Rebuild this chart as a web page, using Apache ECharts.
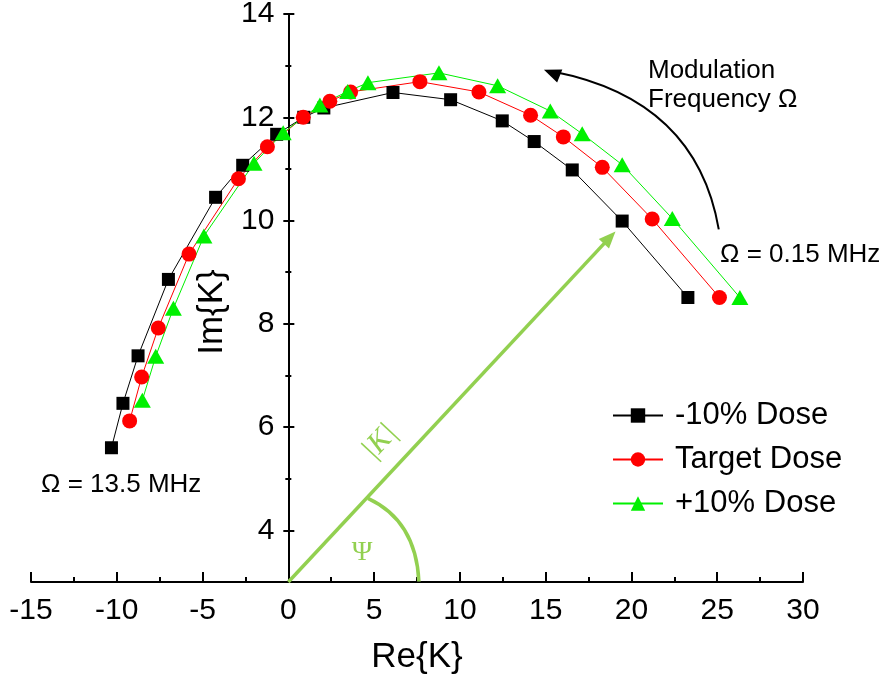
<!DOCTYPE html>
<html lang="en">
<head>
<meta charset="UTF-8">
<title>Im{K} vs Re{K}</title>
<style>html,body{margin:0;padding:0;background:#fff;}</style>
</head>
<body>
<div id="main" style="width:889px;height:685px;"></div>
<script src="https://cdn.jsdelivr.net/npm/echarts@6/dist/echarts.min.js"></script>
<script>
// -10% dose (black squares)
var lowRe = [-10.31, -9.64, -8.76, -6.99, -4.24, -2.66, -0.68, 0.90, 2.07, 6.10, 9.46, 12.47, 14.33, 16.55, 19.46, 23.29];
var lowIm = [5.60, 6.46, 7.38, 8.86, 10.45, 11.07, 11.67, 12.00, 12.18, 12.48, 12.34, 11.93, 11.53, 10.98, 9.99, 8.51];
// target dose (red circles)
var targetRe = [-9.25, -8.55, -7.58, -5.79, -2.91, -1.22, 0.87, 2.42, 3.63, 7.67, 11.11, 14.12, 16.03, 18.30, 21.21, 25.13];
var targetIm = [6.12, 6.97, 7.92, 9.35, 10.81, 11.43, 12.00, 12.31, 12.49, 12.69, 12.49, 12.04, 11.62, 11.03, 10.03, 8.51];
// +10% dose (green triangles)
var highRe = [-8.51, -7.73, -6.70, -4.92, -2.00, -0.30, 1.84, 3.46, 4.64, 8.78, 12.20, 15.27, 17.13, 19.46, 22.38, 26.32];
var highIm = [6.52, 7.37, 8.30, 9.70, 11.11, 11.70, 12.24, 12.50, 12.67, 12.86, 12.61, 12.12, 11.68, 11.08, 10.04, 8.51];

var seriesNames = ['-10% Dose', 'Target Dose', '+10% Dose'];
var xMin = -15, xMax = 30;
var yLabels = [4, 6, 8, 10, 12, 14];
var yMinor = [5, 7, 9, 11, 13];

// annotation anchors, in data units
var vecFrom = [0, 3], vecTo = [19.07, 9.79];
var psiArc = [[4.64, 4.62], [7.44, 4.19], [7.61, 3.01]];
var freqArc = [[25.09, 9.83], [23.78, 12.34], [14.9, 12.92]];

var FONT = 'Liberation Sans, Arial, sans-serif';
var SERIF = 'Liberation Serif, Times New Roman, serif';
var KGREEN = '#92d050';

var W = 889, GL = 31, GR = 86;
// the y axis sits at Re = 0, i.e. moved right from the grid's left edge
var yOffset = -(W - GL - GR) * (0 - xMin) / (xMax - xMin);

function pairs(xs, ys) {
    var out = [];
    for (var i = 0; i < xs.length; i++) out.push([xs[i], ys[i]]);
    return out;
}

function yAxisPart(ticks, inside, len, extra) {
    var ax = {
        type: 'value', min: 3, max: 14, position: 'left', offset: yOffset,
        axisLine: {show: true, onZero: false, lineStyle: {color: '#000', width: 2}},
        axisTick: {show: true, customValues: ticks, inside: inside, length: len, lineStyle: {color: '#000', width: 2}},
        axisLabel: {show: false},
        splitLine: {show: false}
    };
    if (extra) for (var k in extra) ax[k] = extra[k];
    return ax;
}

var chart = echarts.init(document.getElementById('main'));

chart.setOption({
    animation: false,
    backgroundColor: '#fff',
    grid: {left: GL, right: GR, top: 14, bottom: 103, containLabel: false, outerBoundsMode: 'none'},
    legend: {
        orient: 'vertical', left: 607, top: 395,
        itemWidth: 50, itemHeight: 18, itemGap: 13,
        textStyle: {fontSize: 31, color: '#000', fontFamily: FONT, padding: [0, 0, 0, 7]},
        data: seriesNames
    },
    xAxis: {
        type: 'value', min: xMin, max: xMax, interval: 5,
        axisLine: {onZero: false, lineStyle: {color: '#000', width: 2}},
        axisTick: {inside: true, length: 10, lineStyle: {color: '#000', width: 2}},
        minorTick: {show: true, splitNumber: 2, length: 5, lineStyle: {color: '#000', width: 2}},
        axisLabel: {fontSize: 30, color: '#000', fontFamily: FONT, margin: 14},
        splitLine: {show: false},
        name: 'Re{K}', nameLocation: 'middle', nameGap: 58,
        nameTextStyle: {fontSize: 35, color: '#000', fontFamily: FONT}
    },
    yAxis: [
        yAxisPart(yLabels, false, 5, {
            axisLabel: {show: true, customValues: yLabels, fontSize: 30, color: '#000', fontFamily: FONT, margin: 14},
            name: 'Im{K}', nameLocation: 'middle', nameGap: 47,
            nameTextStyle: {fontSize: 35, color: '#000', fontFamily: FONT, padding: [0, 28, 0, 0]}
        }),
        yAxisPart(yLabels, true, 6),
        yAxisPart(yMinor, true, 3),
        yAxisPart(yMinor, false, 3)
    ],
    series: [
        {
            name: seriesNames[0], type: 'line', data: pairs(lowRe, lowIm),
            symbol: 'rect', symbolSize: 13,
            lineStyle: {color: '#000', width: 1}, itemStyle: {color: '#000'}
        },
        {
            name: seriesNames[1], type: 'line', data: pairs(targetRe, targetIm),
            symbol: 'circle', symbolSize: 15,
            lineStyle: {color: '#ff0000', width: 1}, itemStyle: {color: '#ff0000'}
        },
        {
            name: seriesNames[2], type: 'line', data: pairs(highRe, highIm),
            symbol: 'triangle', symbolSize: [17, 15],
            lineStyle: {color: '#00f000', width: 1}, itemStyle: {color: '#00f000'}
        }
    ]
});

function px(p) { return chart.convertToPixel({gridIndex: 0}, p); }

function arrowHead(tip, from, len, half, color) {
    var dx = tip[0] - from[0], dy = tip[1] - from[1];
    var d = Math.sqrt(dx * dx + dy * dy), ux = dx / d, uy = dy / d;
    var bx = tip[0] - ux * len, by = tip[1] - uy * len;
    return {
        type: 'polygon', silent: true, z: 100,
        shape: {points: [tip, [bx - uy * half, by + ux * half], [bx + uy * half, by - ux * half]]},
        style: {fill: color}
    };
}

var o = px(vecFrom), t = px(vecTo);
var ang = Math.atan2(o[1] - t[1], t[0] - o[0]);
var ux = Math.cos(ang), uy = -Math.sin(ang);
var lineEnd = [t[0] - ux * 14, t[1] - uy * 14];
var a0 = px(psiArc[0]), a1 = px(psiArc[1]), a2 = px(psiArc[2]);
var f0 = px(freqArc[0]), f1 = px(freqArc[1]), f2 = px(freqArc[2]);

chart.setOption({
    graphic: [
        {type: 'line', silent: true, z: 100, shape: {x1: o[0], y1: o[1], x2: lineEnd[0], y2: lineEnd[1]},
            style: {stroke: KGREEN, lineWidth: 3.5}},
        arrowHead(t, o, 17, 7, KGREEN),
        {type: 'bezierCurve', silent: true, z: 100,
            shape: {x1: a0[0], y1: a0[1], cpx1: a1[0], cpy1: a1[1], x2: a2[0], y2: a2[1]},
            style: {stroke: KGREEN, lineWidth: 3.5, fill: null}},
        {type: 'text', silent: true, z: 100, x: 380, y: 442, rotation: ang,
            style: {text: '|K|', font: 'italic 30px ' + SERIF, fill: KGREEN, align: 'center', verticalAlign: 'middle'}},
        {type: 'text', silent: true, z: 100, x: 362, y: 553,
            style: {text: 'Ψ', font: '28px ' + SERIF, fill: KGREEN, align: 'center', verticalAlign: 'middle'}},
        {type: 'bezierCurve', silent: true, z: 100,
            shape: {x1: f0[0], y1: f0[1], cpx1: f1[0], cpy1: f1[1], x2: f2[0] + 10, y2: f2[1] + 2},
            style: {stroke: '#000', lineWidth: 2, fill: null}},
        arrowHead(f2, [f2[0] + 40, f2[1] + 16], 17, 7, '#000'),
        {type: 'text', silent: true, z: 100, x: 648, y: 71,
            style: {text: 'Modulation', font: '26px ' + FONT, fill: '#000', align: 'left', verticalAlign: 'middle'}},
        {type: 'text', silent: true, z: 100, x: 648, y: 100,
            style: {text: 'Frequency Ω', font: '26px ' + FONT, fill: '#000', align: 'left', verticalAlign: 'middle'}},
        {type: 'text', silent: true, z: 100, x: 720, y: 255,
            style: {text: 'Ω = 0.15 MHz', font: '26px ' + FONT, fill: '#000', align: 'left', verticalAlign: 'middle'}},
        {type: 'text', silent: true, z: 100, x: 41, y: 485,
            style: {text: 'Ω = 13.5 MHz', font: '26px ' + FONT, fill: '#000', align: 'left', verticalAlign: 'middle'}}
    ]
});
</script>
</body>
</html>
